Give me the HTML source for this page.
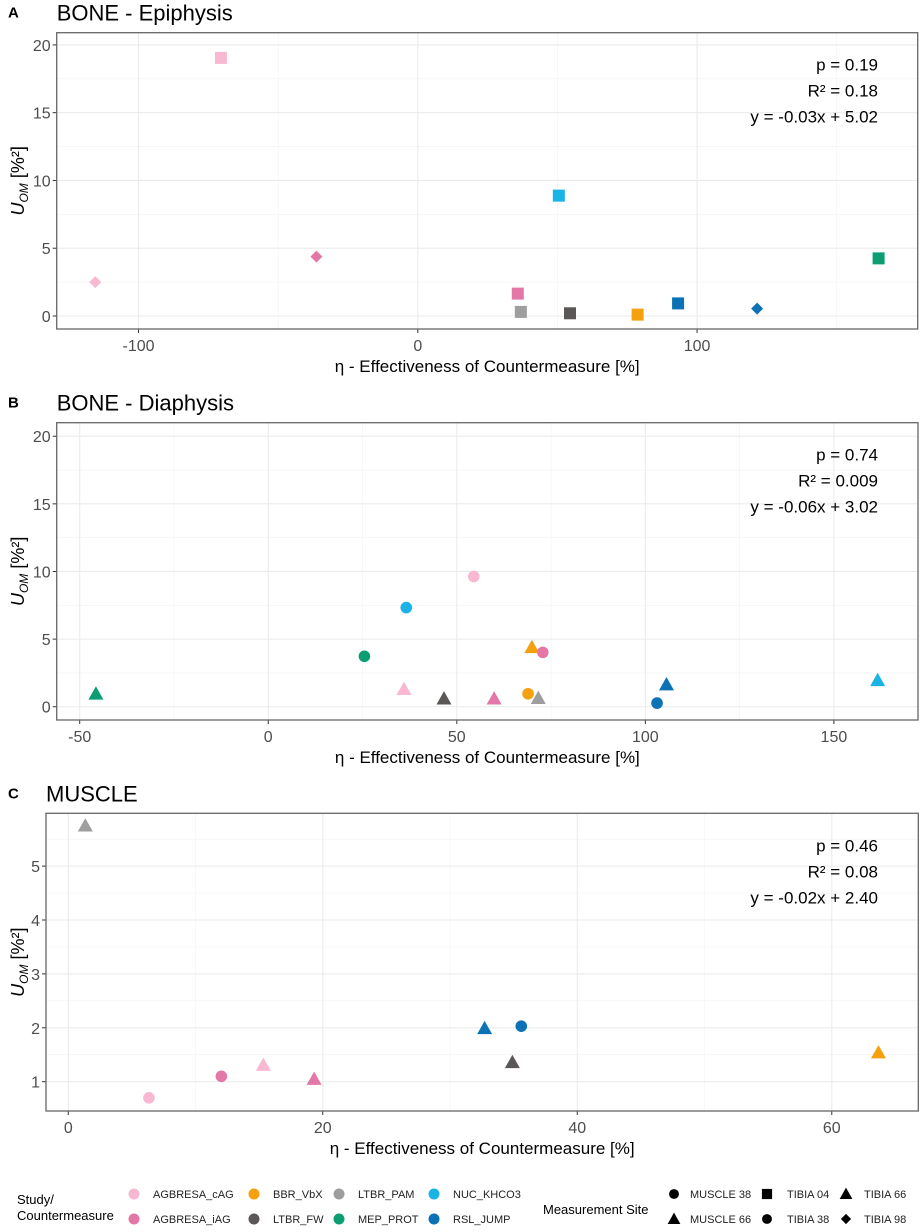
<!DOCTYPE html>
<html><head><meta charset="utf-8"><style>
html,body{margin:0;padding:0;background:#fff;}
svg{display:block;font-family:"Liberation Sans",Arial,sans-serif;}
</style></head><body>
<svg id="chart" width="920" height="1232" viewBox="0 0 920 1232" xmlns="http://www.w3.org/2000/svg"></svg>
<script>
// ---- data ----
const studies = ["AGBRESA_cAG","AGBRESA_iAG","BBR_VbX","LTBR_FW","LTBR_PAM","MEP_PROT","NUC_KHCO3","RSL_JUMP"];
const studyColors = ["#f9b8d2","#e377a8","#f5a00f","#5c5757","#9e9e9e","#0b9e73","#1ab3e6","#0a72b5"];
const sites = ["MUSCLE 38","MUSCLE 66","TIBIA 04","TIBIA 38","TIBIA 66","TIBIA 98"];
const siteShapes = ["circle","triangle","square","circle","triangle","diamond"];

// Panel A - bone epiphysis
const aEta   = [-70.5,-115.5,-36.3,50.5,35.8,36.9,54.5,78.7,93.2,121.5,165];
const aU     = [19.04,2.5,4.38,8.88,1.65,0.3,0.2,0.1,0.93,0.54,4.25];
const aStudy = [0,0,1,6,1,4,3,2,7,7,5];
const aSite  = [2,5,5,2,2,2,2,2,2,5,2];
const aXTicks = [-100,0,100];
const aYTicks = [0,5,10,15,20];

// Panel B - bone diaphysis
const bEta   = [-45.7,36.0,46.6,59.9,68.9,71.6,103.1,105.6,161.6,25.5,36.6,54.5,69.9,72.8];
const bU     = [0.96,1.3,0.6,0.6,0.96,0.64,0.27,1.64,1.96,3.73,7.33,9.63,4.4,4.02];
const bStudy = [5,0,3,1,2,4,7,7,6,5,6,0,2,1];
const bSite  = [4,4,4,4,3,4,3,4,4,3,3,3,4,3];
const bXTicks = [-50,0,50,100,150];
const bYTicks = [0,5,10,15,20];

// Panel C - muscle
const cEta   = [1.34,6.34,12.03,15.33,19.32,32.72,35.6,34.9,63.67];
const cU     = [5.75,0.70,1.10,1.31,1.05,1.99,2.03,1.36,1.54];
const cStudy = [4,0,1,0,1,7,7,3,2];
const cSite  = [1,0,0,1,1,1,0,1,1];
const cXTicks = [0,20,40,60];
const cYTicks = [1,2,3,4,5];

const aStats = ["p = 0.19","R² = 0.18","y = -0.03x + 5.02"];
const bStats = ["p = 0.74","R² = 0.009","y = -0.06x + 3.02"];
const cStats = ["p = 0.46","R² = 0.08","y = -0.02x + 2.40"];

const NS="http://www.w3.org/2000/svg";
const svg=document.getElementById('chart');
function mk(tag,attrs,parent){const e=document.createElementNS(NS,tag);for(const k in attrs)e.setAttribute(k,attrs[k]);(parent||svg).appendChild(e);return e;}

function drawShape(g,shape,cx,cy,color,scale){
  const s=scale||1;let e;
  if(shape==="circle"){e=mk('circle',{cx:cx,cy:cy,r:5.8*s,fill:color},g);}
  else if(shape==="square"){const h=6*s;e=mk('rect',{x:cx-h,y:cy-h,width:2*h,height:2*h,fill:color},g);}
  else if(shape==="triangle"){const h=7.5*s;e=mk('polygon',{points:`${cx},${cy-h} ${cx+h},${cy+h*0.78} ${cx-h},${cy+h*0.78}`,fill:color},g);}
  else {const h=6*s;e=mk('polygon',{points:`${cx},${cy-h} ${cx+h},${cy} ${cx},${cy+h} ${cx-h},${cy}`,fill:color},g);}
  return e;
}

const panels=[
 {id:'a',letter:'A',title:'BONE - Epiphysis',L:56.7,R:917.7,T:32.7,B:329,xmin:-129.3,xmax:179,ymin:-0.96,ymax:20.9,
  xt:aXTicks,yt:aYTicks,xminor:[-150,-50,50,150],yminor:[2.5,7.5,12.5,17.5],eta:aEta,u:aU,st:aStudy,si:aSite,stats:aStats},
 {id:'b',letter:'B',title:'BONE - Diaphysis',L:56.7,R:918,T:422.7,B:720,xmin:-56.1,xmax:172.3,ymin:-0.98,ymax:21,
  xt:bXTicks,yt:bYTicks,xminor:[-25,25,75,125],yminor:[2.5,7.5,12.5,17.5],eta:bEta,u:bU,st:bStudy,si:bSite,stats:bStats},
 {id:'c',letter:'C',title:'MUSCLE',L:46,R:918.3,T:813.3,B:1111,xmin:-1.75,xmax:66.8,ymin:0.456,ymax:5.98,
  xt:cXTicks,yt:cYTicks,xminor:[10,30,50],yminor:[1.5,2.5,3.5,4.5,5.5],eta:cEta,u:cU,st:cStudy,si:cSite,stats:cStats}
];

panels.forEach(p=>{
  const g=mk('g',{});
  
  
  const X=v=>p.L+(v-p.xmin)/(p.xmax-p.xmin)*(p.R-p.L);
  const Y=v=>p.B-(v-p.ymin)/(p.ymax-p.ymin)*(p.B-p.T);
  const lt=mk('text',{x:8,y:p.T-15,'font-size':15,'font-weight':'bold',fill:'#000'},g);lt.textContent=p.letter;
  
  
  const tt=mk('text',{x:p.L,y:p.T-12,'font-size':22,fill:'#000'},g);tt.textContent=p.title;
  
  
  // grid
  const grid=mk('g',{},g);
  
  
  p.xminor.forEach(v=>{const x=X(v);if(x>p.L&&x<p.R)mk('line',{x1:x,x2:x,y1:p.T,y2:p.B,stroke:'#f2f2f2','stroke-width':0.6},grid);});
  p.yminor.forEach(v=>{const y=Y(v);if(y>p.T&&y<p.B)mk('line',{x1:p.L,x2:p.R,y1:y,y2:y,stroke:'#f2f2f2','stroke-width':0.6},grid);});
  p.xt.forEach(v=>{const x=X(v);mk('line',{x1:x,x2:x,y1:p.T,y2:p.B,stroke:'#ebebeb','stroke-width':1.1},grid);});
  p.yt.forEach(v=>{const y=Y(v);mk('line',{x1:p.L,x2:p.R,y1:y,y2:y,stroke:'#ebebeb','stroke-width':1.1},grid);});
  // ticks
  p.xt.forEach(v=>{const x=X(v);mk('line',{x1:x,x2:x,y1:p.B,y2:p.B+4,stroke:'#333','stroke-width':1},g);
    const t=mk('text',{x:x,y:p.B+22,'font-size':16,'text-anchor':'middle',fill:'#4d4d4d'},g);t.textContent=v;
    
    });
  p.yt.forEach(v=>{const y=Y(v);mk('line',{x1:p.L-4,x2:p.L,y1:y,y2:y,stroke:'#333','stroke-width':1},g);
    const t=mk('text',{x:p.L-6,y:y+6,'font-size':16,'text-anchor':'end',fill:'#4d4d4d'},g);t.textContent=v;
    
    });
  // points
  const pts=mk('g',{},g);
  
  
  p.eta.forEach((v,i)=>{const e=drawShape(pts,siteShapes[p.si[i]],X(v),Y(p.u[i]),studyColors[p.st[i]]);
    
    });
  // border
  const bd=mk('rect',{x:p.L,y:p.T,width:p.R-p.L,height:p.B-p.T,fill:'none',stroke:'#666','stroke-width':1.3},g);
  
  
  // stats
  p.stats.forEach((s,i)=>{const t=mk('text',{x:878,y:p.T+38+i*26,'font-size':17,'text-anchor':'end',fill:'#000'},g);t.textContent=s;
    
    });
  // axis titles
  const xt=mk('text',{x:(p.L+p.R)/2,y:p.B+43,'font-size':17,'text-anchor':'middle',fill:'#000'},g);
  xt.textContent='η - Effectiveness of Countermeasure [%]';
  
  
  const cy=(p.T+p.B)/2;
  const yt=mk('text',{x:0,y:0,'font-size':18,'text-anchor':'middle',fill:'#000',transform:`translate(24,${cy}) rotate(-90)`},g);
  yt.innerHTML='<tspan font-style="italic">U</tspan><tspan font-style="italic" font-size="12" dy="4">OM</tspan><tspan dy="-4"> [%²]</tspan>';
  
  
});

// legend
const lg=mk('g',{});


let t=mk('text',{x:17,y:1204,'font-size':13,fill:'#000'},lg);t.textContent='Study/';


t=mk('text',{x:17,y:1220,'font-size':13,fill:'#000'},lg);t.textContent='Countermeasure';


const studyOrder=[0,2,4,6,1,3,5,7];
const colX=[134,254,339,434];
studyOrder.forEach((s,k)=>{const col=k%4,row=Math.floor(k/4);const y=1194+row*25;
  const gi=mk('g',{},lg);
  
  
  mk('circle',{cx:colX[col],cy:y,r:5.5,fill:studyColors[s]},gi);
  const tx=mk('text',{x:colX[col]+19,y:y+4,'font-size':11,fill:'#222'},gi);tx.textContent=studies[s];});
t=mk('text',{x:543,y:1214,'font-size':13,fill:'#000'},lg);t.textContent='Measurement Site';


const siteOrder=[0,2,4,1,3,5];
const sx=[674,767,846],sl=[690,787,864];
siteOrder.forEach((s,k)=>{const col=k%3,row=Math.floor(k/3);const y=1194+row*25;
  const gi=mk('g',{},lg);
  
  
  drawShape(gi,siteShapes[s],sx[col],y,'#000',0.85);
  const tx=mk('text',{x:sl[col],y:y+4,'font-size':11,fill:'#222'},gi);tx.textContent=sites[s];});
</script>
</body></html>
